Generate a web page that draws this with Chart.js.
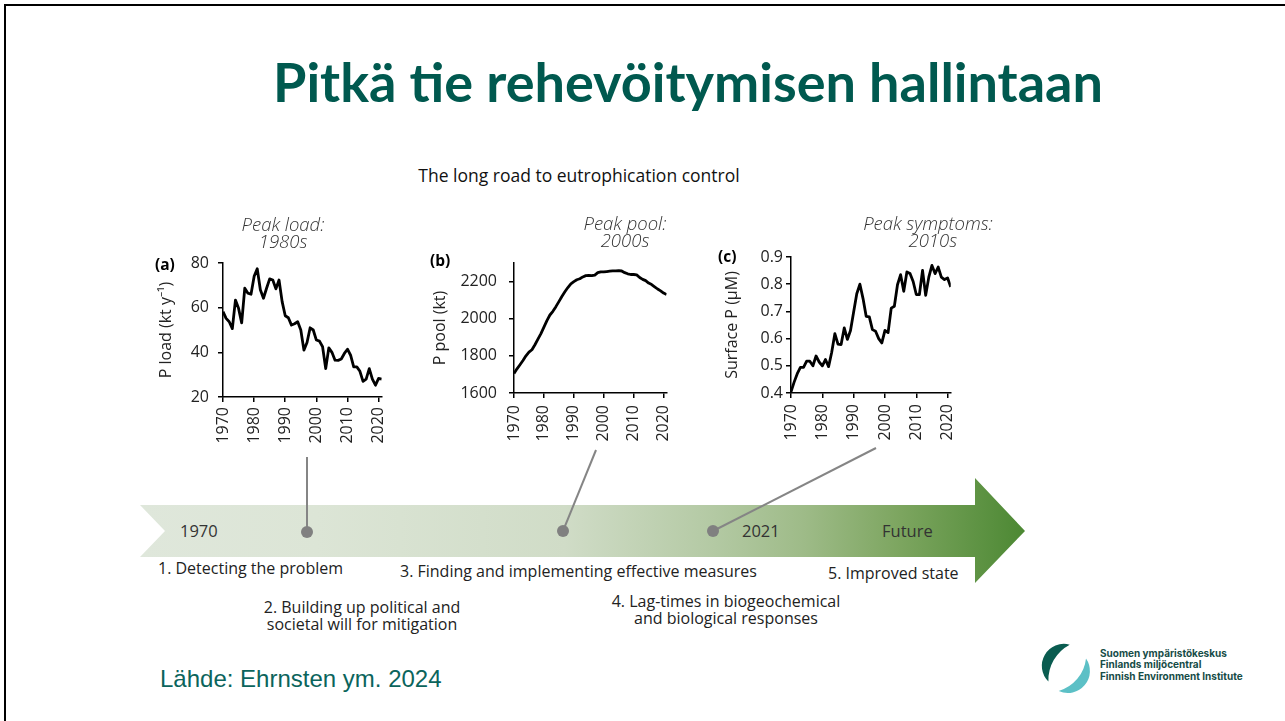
<!DOCTYPE html>
<html lang="fi">
<head>
<meta charset="utf-8">
<title>Pitkä tie rehevöitymisen hallintaan</title>
<script src="https://cdn.jsdelivr.net/npm/chart.js@4.4.1/dist/chart.umd.min.js"></script>
<style>
  html, body { margin: 0; padding: 0; }
  body { width: 1285px; height: 721px; position: relative; overflow: hidden; background: #fff; }
  .frame { position: absolute; left: 4px; top: 4px; right: 0; bottom: 0; border-top: 2px solid #000; border-left: 2px solid #000; }
  .t { position: absolute; white-space: pre; }
  canvas { position: absolute; }
  svg { position: absolute; left: 0; top: 0; }
</style>
</head>
<body>
<div class="frame"></div>

<svg width="1285" height="721">
  <defs>
    <linearGradient id="road" x1="140" y1="0" x2="1025" y2="0" gradientUnits="userSpaceOnUse">
      <stop offset="0" stop-color="#dfe7db"/>
      <stop offset="0.2" stop-color="#dce5d6"/>
      <stop offset="0.48" stop-color="#d0dcc7"/>
      <stop offset="0.65" stop-color="#b3c9a3"/>
      <stop offset="0.75" stop-color="#9ebb88"/>
      <stop offset="0.86" stop-color="#7ca55f"/>
      <stop offset="1" stop-color="#4c8833"/>
    </linearGradient>
  </defs>
  <polygon points="140,505 975,505 975,478 1025,531 975,583 975,557 140,557 165,531" fill="url(#road)"/>
  <!-- connectors from the panels to the timeline -->
  <line x1="307" y1="457" x2="307" y2="531" stroke="#858585" stroke-width="2"/>
  <line x1="596" y1="450" x2="563" y2="531" stroke="#858585" stroke-width="2"/>
  <line x1="876" y1="448" x2="713" y2="531" stroke="#858585" stroke-width="2"/>
  <circle cx="307" cy="532" r="6" fill="#808080"/>
  <circle cx="563" cy="531" r="6" fill="#808080"/>
  <circle cx="713" cy="531" r="6" fill="#808080"/>
  <!-- logo -->
  <path d="M1069.7,644.7 A22,22 0 0 0 1048.4,681.6 A40,40 0 0 1 1069.7,644.7 Z" fill="#0a5c50"/>
  <path d="M1086,658.4 A22,22 0 0 1 1058.7,690.9 A38,38 0 0 0 1086,658.4 Z" fill="#5cc0c6"/>
</svg>

<canvas id="chartA" width="250" height="206" style="left:153px;top:241px"></canvas>
<canvas id="chartB" width="263" height="202" style="left:427px;top:241px"></canvas>
<canvas id="chartC" width="254" height="208" style="left:719px;top:235px"></canvas>

<script>
// vuodet / years
const years = [1970, 1971, 1972, 1973, 1974, 1975, 1976, 1977, 1978, 1979,
  1980, 1981, 1982, 1983, 1984, 1985, 1986, 1987, 1988, 1989,
  1990, 1991, 1992, 1993, 1994, 1995, 1996, 1997, 1998, 1999,
  2000, 2001, 2002, 2003, 2004, 2005, 2006, 2007, 2008, 2009,
  2010, 2011, 2012, 2013, 2014, 2015, 2016, 2017, 2018, 2019,
  2020, 2021];

// (a) P load, kt/y
const pLoad = [58.2, 55.2, 53.7, 50.6, 63.4, 59.7, 53.2, 68.7, 66.5, 66.0,
  74.0, 77.4, 68.0, 64.2, 68.7, 72.9, 72.4, 68.4, 72.4, 62.7,
  56.4, 55.5, 52.2, 52.8, 53.7, 50.0, 41.0, 44.4, 51.0, 50.0,
  45.5, 45.0, 42.5, 32.7, 42.0, 40.0, 36.5, 36.4, 37.0, 39.5,
  41.4, 38.7, 33.5, 33.5, 31.5, 27.0, 28.0, 32.7, 28.0, 25.3,
  28.3, 28.0];

// (b) P pool, kt
const pPool = [1705, 1730, 1752, 1775, 1800, 1820, 1833, 1860, 1890, 1920,
  1955, 1990, 2020, 2040, 2065, 2092, 2120, 2145, 2168, 2188,
  2200, 2210, 2215, 2225, 2232, 2233, 2232, 2235, 2248, 2252,
  2252, 2254, 2256, 2258, 2258, 2259, 2257, 2248, 2242, 2238,
  2238, 2236, 2222, 2212, 2205, 2192, 2184, 2172, 2160, 2150,
  2138, 2130];

// (c) Surface P, µM
const surfaceP = [0.404, 0.440, 0.471, 0.494, 0.494, 0.517, 0.517, 0.500, 0.536, 0.514,
  0.500, 0.523, 0.497, 0.550, 0.618, 0.580, 0.578, 0.639, 0.597, 0.630,
  0.698, 0.765, 0.800, 0.747, 0.682, 0.680, 0.633, 0.627, 0.600, 0.584,
  0.630, 0.622, 0.712, 0.719, 0.798, 0.835, 0.774, 0.845, 0.839, 0.810,
  0.762, 0.762, 0.851, 0.759, 0.826, 0.869, 0.839, 0.863, 0.826, 0.817,
  0.823, 0.790];

const yearTicks = [1970, 1980, 1990, 2000, 2010, 2020];
const loadTicks = [20, 40, 60, 80];
const poolTicks = [1600, 1800, 2000, 2200];
const surfTicks = [0.4, 0.5, 0.6, 0.7, 0.8, 0.9];

const AXIS_FONT = { family: 'Open Sans', size: 16 };

function makeChart(canvasId, values, c) {
  return new Chart(document.getElementById(canvasId), {
    type: 'line',
    data: {
      datasets: [{
        data: years.map((yr, i) => ({ x: yr, y: values[i] })),
        borderColor: '#000',
        borderWidth: 2.8,
        borderJoinStyle: 'round',
        pointRadius: 0,
        tension: 0
      }]
    },
    options: {
      responsive: false,
      animation: false,
      devicePixelRatio: 1,
      // top padding is big enough so the tick labels never push the plot down
      layout: { padding: { top: 22, right: 10, left: 0, bottom: 0 } },
      plugins: { legend: { display: false }, tooltip: { enabled: false } },
      scales: {
        x: {
          type: 'linear',
          min: 1970,
          max: 2021,
          afterBuildTicks: s => { s.ticks = yearTicks.map(v => ({ value: v })); },
          afterFit: s => { s.height = 50; },
          ticks: { minRotation: 90, maxRotation: 90, padding: c.xPad, color: '#222', font: AXIS_FONT, callback: v => String(v) },
          grid: { drawOnChartArea: false, tickLength: 5, color: '#000', lineWidth: 1.5 },
          border: { color: '#000', width: 1.5 }
        },
        y: {
          min: c.min,
          max: c.max,
          afterBuildTicks: s => { s.ticks = c.ticks.map(v => ({ value: v })); },
          afterFit: s => { s.width = c.yWidth; },
          ticks: { padding: c.yPad, color: '#222', font: AXIS_FONT, callback: c.fmt },
          grid: { drawOnChartArea: false, tickLength: 5, color: '#000', lineWidth: 1.5 },
          border: { color: '#000', width: 1.5 },
          title: { display: true, text: c.title, color: '#222', font: AXIS_FONT, padding: { top: 4, bottom: 4 } }
        }
      }
    }
  });
}

makeChart('chartA', pLoad, { min: 20, max: 80, ticks: loadTicks, yWidth: 70, yPad: 9, xPad: 5,
  title: 'P load (kt y⁻¹)', fmt: v => String(v) });
makeChart('chartB', pPool, { min: 1600, max: 2300, ticks: poolTicks, yWidth: 87, yPad: 12, xPad: 7,
  title: 'P pool (kt)', fmt: v => String(v) });
makeChart('chartC', surfaceP, { min: 0.4, max: 0.9, ticks: surfTicks, yWidth: 72, yPad: 3, xPad: 6,
  title: 'Surface P (μM)', fmt: v => v.toFixed(1) });

// fonttien ascent/descent (em), jotta teksti voidaan asettaa perusviivan mukaan
const METRICS = {
  'Open Sans': [1.069, 0.293],
  'Lato': [0.987, 0.213],
  'Liberation Sans': [0.905, 0.212],
  'Inter': [0.969, 0.242]
};

// tekstit: [teksti, x, ensimmäisen rivin baseline, fontti, koko, paino, tyyli, tasaus, väri, riviväli]
const texts = [
  ['Pitkä tie rehevöitymisen hallintaan', 688, 103, 'Lato', 54, 700, 'normal', 'center', '#00594f'],
  ['The long road to eutrophication control', 579, 183, 'Open Sans', 17.5, 400, 'normal', 'center', '#111'],
  ['Peak load:\n1980s', 283, 231, 'Open Sans', 18.5, 300, 'italic', 'center', '#333', 17],
  ['Peak pool:\n2000s', 625, 230, 'Open Sans', 18.5, 300, 'italic', 'center', '#333', 17],
  ['Peak symptoms:\n  2010s', 928, 230, 'Open Sans', 18.5, 300, 'italic', 'center', '#333', 17],
  ['(a)', 155, 271, 'Open Sans', 15.5, 700, 'normal', 'left', '#000'],
  ['(b)', 430, 267, 'Open Sans', 15.5, 700, 'normal', 'left', '#000'],
  ['(c)', 718, 263, 'Open Sans', 15.5, 700, 'normal', 'left', '#000'],
  ['1970', 180, 538, 'Open Sans', 16.5, 400, 'normal', 'left', '#333'],
  ['2021', 742, 538, 'Open Sans', 16.5, 400, 'normal', 'left', '#333'],
  ['Future', 882, 538, 'Open Sans', 16.5, 400, 'normal', 'left', '#333'],
  ['1. Detecting the problem', 158, 574, 'Open Sans', 16, 400, 'normal', 'left', '#222'],
  ['3. Finding and implementing effective measures', 400, 577, 'Open Sans', 16, 400, 'normal', 'left', '#222'],
  ['5. Improved state', 828, 579, 'Open Sans', 16, 400, 'normal', 'left', '#222'],
  ['2. Building up political and\nsocietal will for mitigation', 362, 614, 'Open Sans', 16, 400, 'normal', 'center', '#222', 17],
  ['4. Lag-times in biogeochemical\nand biological responses', 726, 608, 'Open Sans', 16, 400, 'normal', 'center', '#222', 17],
  ['Lähde: Ehrnsten ym. 2024', 160, 687, 'Liberation Sans', 24, 400, 'normal', 'left', '#0b645c'],
  ['Suomen ympäristökeskus\nFinlands miljöcentral\nFinnish Environment Institute', 1100, 657, 'Inter', 10, 700, 'normal', 'left', '#164c47', 11.5]
];

texts.forEach(([str, x, base, family, size, weight, style, align, color, lead]) => {
  const [asc, desc] = METRICS[family];
  const lh = lead || 0.9 * size;
  const d = document.createElement('div');
  d.className = 't';
  d.textContent = str;
  d.style.font = `${style} ${weight} ${size}px "${family}"`;
  d.style.lineHeight = lh + 'px';
  d.style.color = color;
  d.style.textAlign = align;
  d.style.top = (base - ((lh - (asc + desc) * size) / 2 + asc * size)) + 'px';
  d.style.left = x + 'px';
  if (align === 'center') d.style.transform = 'translateX(-50%)';
  document.body.appendChild(d);
});
</script>
</body>
</html>
